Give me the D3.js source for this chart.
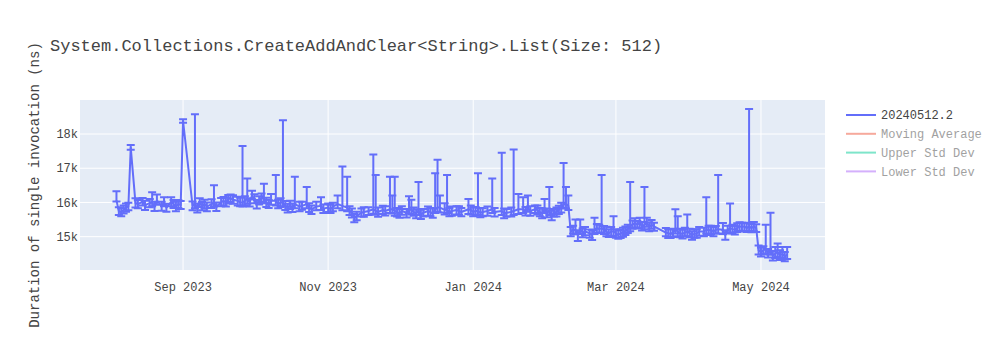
<!DOCTYPE html>
<html>
<head>
<meta charset="utf-8">
<script src="https://cdn.jsdelivr.net/npm/d3@7"></script>
<style>
  body { margin: 0; background: #fff; }
  text { font-family: "Courier New", "Liberation Mono", monospace; }
</style>
</head>
<body>
<svg id="chart" width="1000" height="350"></svg>
<script>
// ---------------- DATA ----------------
const chartTitle = "System.Collections.CreateAddAndClear<String>.List(Size: 512)";
const yAxisTitle = "Duration of single invocation (ns)";
const seriesNames = ["20240512.2", "Moving Average", "Upper Std Dev", "Lower Std Dev"];
const seriesVisible = [true, false, false, false];
const xTickDates = ["2023-09-01", "2023-11-01", "2024-01-01", "2024-03-01", "2024-05-01"];
const xTickLabels = ["Sep 2023", "Nov 2023", "Jan 2024", "Mar 2024", "May 2024"];
const yTickValues = [15000, 16000, 17000, 18000];
const yTickLabels = ["15k", "16k", "17k", "18k"];
const xRange = ["2023-07-19T16:00", "2024-05-27T22:00"];
const yRange = [14026, 18994];

const dates = [
  "2023-08-04","2023-08-05","2023-08-06","2023-08-07","2023-08-08","2023-08-09","2023-08-10","2023-08-12","2023-08-13","2023-08-15","2023-08-16","2023-08-18","2023-08-19","2023-08-20","2023-08-21","2023-08-23","2023-08-24","2023-08-25","2023-08-27","2023-08-28","2023-08-29","2023-08-30","2023-08-31",
  "2023-09-01","2023-09-05","2023-09-06","2023-09-07","2023-09-08","2023-09-09","2023-09-10","2023-09-11","2023-09-13","2023-09-14","2023-09-15","2023-09-17","2023-09-18","2023-09-19","2023-09-20","2023-09-21","2023-09-22","2023-09-24","2023-09-25","2023-09-26","2023-09-27","2023-09-28","2023-09-29","2023-09-30",
  "2023-10-01","2023-10-02","2023-10-03","2023-10-04","2023-10-05","2023-10-06","2023-10-07","2023-10-08","2023-10-10","2023-10-11","2023-10-12","2023-10-13","2023-10-14","2023-10-15","2023-10-16","2023-10-17","2023-10-18","2023-10-20","2023-10-21","2023-10-23","2023-10-24","2023-10-25","2023-10-27","2023-10-29","2023-10-30",
  "2023-11-01","2023-11-02","2023-11-03","2023-11-05","2023-11-07","2023-11-09","2023-11-10","2023-11-11","2023-11-12","2023-11-13","2023-11-15","2023-11-16","2023-11-18","2023-11-20","2023-11-21","2023-11-22","2023-11-24","2023-11-25","2023-11-27","2023-11-28","2023-11-29","2023-11-30",
  "2023-12-01","2023-12-02","2023-12-04","2023-12-05","2023-12-06","2023-12-07","2023-12-08","2023-12-09","2023-12-10","2023-12-11","2023-12-13","2023-12-14","2023-12-15","2023-12-16","2023-12-17","2023-12-18","2023-12-20","2023-12-21","2023-12-22","2023-12-23","2023-12-25","2023-12-26","2023-12-27","2023-12-30","2023-12-31",
  "2024-01-01","2024-01-02","2024-01-03","2024-01-04","2024-01-05","2024-01-07","2024-01-09","2024-01-10","2024-01-13","2024-01-14","2024-01-15","2024-01-17","2024-01-18","2024-01-20","2024-01-22","2024-01-23","2024-01-24","2024-01-25","2024-01-27","2024-01-28","2024-01-29","2024-01-30","2024-01-31",
  "2024-02-01","2024-02-02","2024-02-03","2024-02-04","2024-02-05","2024-02-06","2024-02-07","2024-02-08","2024-02-09","2024-02-10","2024-02-11","2024-02-12","2024-02-13","2024-02-14","2024-02-15","2024-02-16","2024-02-17","2024-02-19","2024-02-20","2024-02-21","2024-02-22","2024-02-23","2024-02-24","2024-02-25","2024-02-26","2024-02-27","2024-02-28","2024-02-29",
  "2024-03-01","2024-03-02","2024-03-03","2024-03-04","2024-03-05","2024-03-06","2024-03-07","2024-03-08","2024-03-09","2024-03-10","2024-03-11","2024-03-12","2024-03-13","2024-03-14","2024-03-15","2024-03-16","2024-03-17","2024-03-22","2024-03-23","2024-03-24","2024-03-25","2024-03-26","2024-03-27","2024-03-28","2024-03-29","2024-03-30","2024-03-31",
  "2024-04-01","2024-04-02","2024-04-03","2024-04-04","2024-04-05","2024-04-07","2024-04-08","2024-04-09","2024-04-10","2024-04-11","2024-04-12","2024-04-13","2024-04-15","2024-04-16","2024-04-17","2024-04-18","2024-04-19","2024-04-20","2024-04-21","2024-04-22","2024-04-23","2024-04-24","2024-04-25","2024-04-26","2024-04-27","2024-04-28","2024-04-29","2024-04-30",
  "2024-05-01","2024-05-02","2024-05-03","2024-05-04","2024-05-05","2024-05-06","2024-05-07","2024-05-08","2024-05-09","2024-05-10","2024-05-11","2024-05-12"
];

const means = [
  16060,15740,15720,15780,15850,15880,17600,15980,15950,16020,15920,15980,16000,15880,16050,15900,16000,15850,16020,15950,15880,15960,15920,
  18380,15900,15950,15850,15980,15900,15950,15880,15950,16000,15880,16000,16050,16000,16100,16120,16080,16050,16000,16000,16050,16100,16000,16200,
  16100,15950,16050,16150,16100,16000,15950,16050,16050,15950,16000,16000,15900,15850,15920,15850,15950,15880,15900,15950,15850,15800,15880,15900,15820,
  15850,15800,15880,15950,15900,15850,15750,15700,15550,15600,15700,15720,15750,15800,15750,15720,15780,15750,15800,15800,15750,15720,
  15680,15750,15700,15800,15780,15720,15680,15750,15650,15700,15750,15720,15680,15800,15850,15850,15780,15800,15720,15750,15780,15750,15720,15800,15780,
  15720,15750,15750,15700,15720,15750,15800,15720,15750,15680,15700,15720,15750,15800,15800,15750,15850,15750,15800,15780,15720,15680,15800,
  15700,15750,15620,15700,15720,15780,15850,15950,15950,15900,15150,15200,15200,15050,15200,15120,15150,15100,15050,15200,15250,15220,15250,15200,15150,15100,15150,15150,
  15100,15050,15100,15120,15180,15220,15300,15350,15400,15350,15400,15300,15350,15400,15300,15350,15300,15120,15100,15080,15120,15200,15150,15100,15080,15120,15150,
  15100,15050,15080,15100,15150,15150,15200,15180,15200,15150,15200,15220,15200,15050,15200,15250,15220,15200,15250,15300,15280,15300,15250,15300,15250,15300,15250,14600,
  14550,14600,14650,14500,14600,14450,14500,14550,14450,14500,14420,14480
];

const errPlus = [
  270,120,110,130,120,110,80,140,120,110,130,120,300,140,180,120,150,110,130,120,140,110,120,
  50,130,2630,120,140,110,130,120,140,500,120,130,110,140,120,110,130,120,140,1650,130,600,120,140,
  140,120,130,110,450,140,120,200,750,130,120,2400,140,110,130,120,800,140,120,500,130,110,140,250,120,
  120,130,110,250,1150,900,140,120,110,130,120,140,110,1600,1050,130,120,140,950,400,1000,120,
  120,140,110,380,300,130,120,850,140,110,130,120,140,1050,1400,350,200,1000,120,130,110,140,120,300,130,
  130,120,1100,140,110,130,900,120,1700,140,110,130,1800,450,350,120,350,140,110,130,120,140,300,
  120,700,140,110,130,120,140,1200,500,300,130,120,300,140,300,120,130,110,140,350,120,130,1550,110,140,120,130,450,
  120,130,110,140,120,130,1300,120,140,110,150,130,1100,150,120,140,110,130,120,140,110,600,450,130,120,140,500,
  130,110,140,120,130,110,950,140,120,130,110,1580,200,140,120,720,130,110,140,120,130,110,140,3430,120,130,110,140,
  130,120,700,140,1100,130,200,250,150,200,130,220
];

const errMinus = [
  30,110,120,100,120,110,60,130,120,110,140,120,110,130,120,140,110,120,130,110,140,120,110,
  50,130,120,140,110,130,120,140,110,120,130,110,140,120,130,110,120,140,110,120,130,140,120,110,
  120,130,110,140,120,130,110,120,140,120,130,110,120,140,110,130,120,140,110,120,130,140,110,120,130,
  130,110,140,120,130,110,120,140,130,120,110,140,120,130,110,140,120,130,110,120,140,130,
  130,110,140,120,130,110,140,120,130,110,140,120,130,110,120,140,130,110,120,140,130,110,120,140,130,
  120,140,110,130,120,140,110,130,120,140,110,130,120,140,110,130,120,140,110,130,120,140,110,
  130,120,140,110,130,120,140,110,130,120,140,110,130,180,120,140,110,130,150,120,140,110,130,120,140,110,130,120,
  130,110,140,120,130,110,140,120,130,110,140,120,130,110,140,120,130,110,140,120,130,110,140,120,130,110,140,
  120,140,110,130,120,140,110,130,120,140,110,130,120,140,110,130,120,140,110,130,120,140,110,130,120,140,110,120,
  130,120,140,110,130,150,120,140,130,120,140,130
];

// ---------------- STYLE / LAYOUT ----------------
const W = 1000, H = 350;
const plot = { left: 80, top: 100, right: 825, bottom: 270 };
const colors = ["#636efa", "#EF553B", "#00cc96", "#ab63fa"];
const textColor = "#444";

const parseDay = d3.utcParse("%Y-%m-%d");
const parseDT = d3.utcParse("%Y-%m-%dT%H:%M");

const data = dates.map((d, i) => ({
  date: parseDay(d), v: means[i], hi: means[i] + errPlus[i], lo: means[i] - errMinus[i]
}));

const x = d3.scaleUtc().domain(xRange.map(parseDT)).range([plot.left, plot.right]);
const y = d3.scaleLinear().domain(yRange).range([plot.bottom, plot.top]);

const svg = d3.select("#chart");
svg.append("rect").attr("width", W).attr("height", H).attr("fill", "#fff");
svg.append("rect")
  .attr("x", plot.left).attr("y", plot.top)
  .attr("width", plot.right - plot.left).attr("height", plot.bottom - plot.top)
  .attr("fill", "#e5ecf6");

// grid lines
const grid = svg.append("g");
grid.selectAll(".vg").data(xTickDates).join("line")
  .attr("x1", d => x(parseDay(d))).attr("x2", d => x(parseDay(d)))
  .attr("y1", plot.top).attr("y2", plot.bottom)
  .attr("stroke", "#fff").attr("stroke-width", 1);
grid.selectAll(".hg").data(yTickValues).join("line")
  .attr("x1", plot.left).attr("x2", plot.right)
  .attr("y1", d => y(d)).attr("y2", d => y(d))
  .attr("stroke", "#fff").attr("stroke-width", 1);

// tick labels
svg.append("g").selectAll("text").data(xTickDates).join("text")
  .attr("x", d => x(parseDay(d))).attr("y", 291)
  .attr("text-anchor", "middle").attr("font-size", 12).attr("fill", textColor)
  .text((d, i) => xTickLabels[i]);
svg.append("g").selectAll("text").data(yTickValues).join("text")
  .attr("x", plot.left - 2).attr("y", d => y(d)).attr("dy", "0.35em")
  .attr("text-anchor", "end").attr("font-size", 12).attr("fill", textColor)
  .text((d, i) => yTickLabels[i]);

// clip
svg.append("clipPath").attr("id", "clip").append("rect")
  .attr("x", plot.left).attr("y", plot.top)
  .attr("width", plot.right - plot.left).attr("height", plot.bottom - plot.top);
const g = svg.append("g").attr("clip-path", "url(#clip)");

// line
const line = d3.line().x(d => x(d.date)).y(d => y(d.v));
g.append("path").datum(data)
  .attr("d", line).attr("fill", "none")
  .attr("stroke", colors[0]).attr("stroke-width", 2)
  .attr("stroke-linejoin", "round");

// error bars
const eb = g.append("g").attr("stroke", colors[0]).attr("stroke-width", 2).attr("fill", "none");
eb.selectAll("path").data(data).join("path").attr("d", d => {
  const cx = x(d.date), y1 = y(d.hi), y0 = y(d.lo);
  return `M${cx - 4},${y1}H${cx + 4}M${cx},${y1}V${y0}M${cx - 4},${y0}H${cx + 4}`;
});

// title
svg.append("text").attr("x", 50).attr("y", 51)
  .attr("font-size", 17).attr("fill", textColor).text(chartTitle);

// y axis title
svg.append("text")
  .attr("transform", `translate(38.5,${(plot.top + plot.bottom) / 2}) rotate(-90)`)
  .attr("text-anchor", "middle").attr("font-size", 14).attr("fill", textColor)
  .text(yAxisTitle);

// legend
const lg = svg.append("g");
seriesNames.forEach((name, i) => {
  const ly = 115 + i * 18.8;
  const item = lg.append("g").attr("opacity", seriesVisible[i] ? 1 : 0.5);
  item.append("line").attr("x1", 846).attr("x2", 876).attr("y1", ly).attr("y2", ly)
    .attr("stroke", colors[i]).attr("stroke-width", 2);
  item.append("text").attr("x", 881).attr("y", ly).attr("dy", "0.35em")
    .attr("font-size", 12).attr("fill", textColor).text(name);
});
</script>
</body>
</html>
